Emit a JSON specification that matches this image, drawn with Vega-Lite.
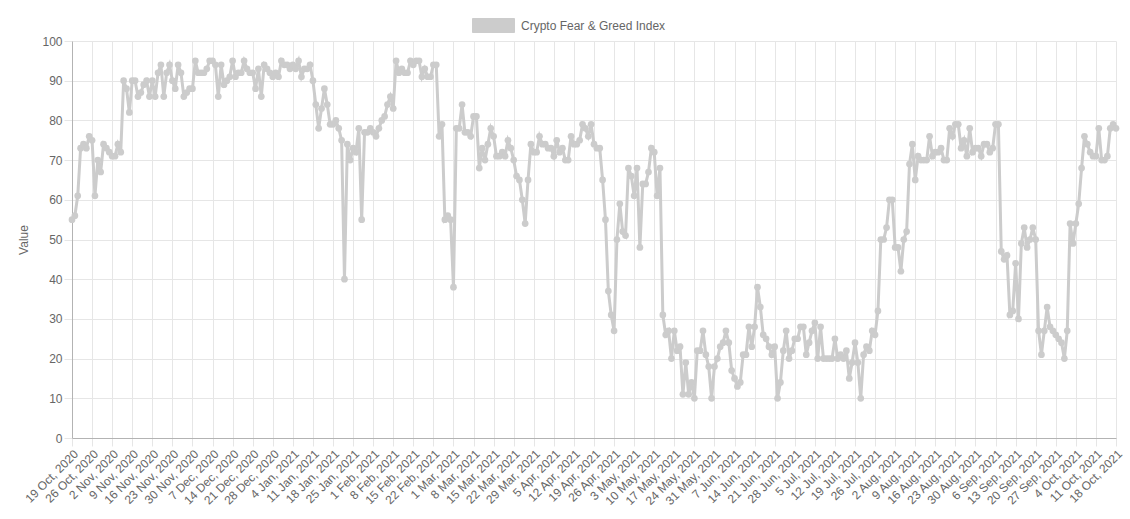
{
  "$schema": "https://vega.github.io/schema/vega-lite/v6.json",
  "width": 1044,
  "height": 397,
  "autosize": {"type": "none"},
  "padding": {"left": 72, "top": 41, "right": 14, "bottom": 81},
  "background": "white",
  "config": {
    "font": "Liberation Sans",
    "view": {"stroke": null},
    "axis": {"labelFont": "Liberation Sans", "titleFont": "Liberation Sans", "labelFontSize": 12, "labelColor": "#666666", "gridColor": "#e6e6e6", "tickColor": "#e6e6e6", "domainColor": "#b3b3b3", "tickSize": 8, "labelPadding": 2}
  },
  "data": {"values": [
{"date":"19 Oct, 2020","value":55},{"date":"20 Oct, 2020","value":56},{"date":"21 Oct, 2020","value":61},{"date":"22 Oct, 2020","value":73},{"date":"23 Oct, 2020","value":74},{"date":"24 Oct, 2020","value":73},{"date":"25 Oct, 2020","value":76},{"date":"26 Oct, 2020","value":75},{"date":"27 Oct, 2020","value":61},{"date":"28 Oct, 2020","value":70},{"date":"29 Oct, 2020","value":67},{"date":"30 Oct, 2020","value":74},{"date":"31 Oct, 2020","value":73},
{"date":"1 Nov, 2020","value":72},{"date":"2 Nov, 2020","value":71},{"date":"3 Nov, 2020","value":71},{"date":"4 Nov, 2020","value":74},{"date":"5 Nov, 2020","value":72},{"date":"6 Nov, 2020","value":90},{"date":"7 Nov, 2020","value":88},{"date":"8 Nov, 2020","value":82},{"date":"9 Nov, 2020","value":90},{"date":"10 Nov, 2020","value":90},{"date":"11 Nov, 2020","value":86},{"date":"12 Nov, 2020","value":87},{"date":"13 Nov, 2020","value":89},{"date":"14 Nov, 2020","value":90},{"date":"15 Nov, 2020","value":86},{"date":"16 Nov, 2020","value":90},{"date":"17 Nov, 2020","value":86},{"date":"18 Nov, 2020","value":92},{"date":"19 Nov, 2020","value":94},{"date":"20 Nov, 2020","value":86},{"date":"21 Nov, 2020","value":92},{"date":"22 Nov, 2020","value":94},{"date":"23 Nov, 2020","value":90},{"date":"24 Nov, 2020","value":88},{"date":"25 Nov, 2020","value":94},{"date":"26 Nov, 2020","value":92},{"date":"27 Nov, 2020","value":86},{"date":"28 Nov, 2020","value":87},{"date":"29 Nov, 2020","value":88},{"date":"30 Nov, 2020","value":88},
{"date":"1 Dec, 2020","value":95},{"date":"2 Dec, 2020","value":92},{"date":"3 Dec, 2020","value":92},{"date":"4 Dec, 2020","value":92},{"date":"5 Dec, 2020","value":93},{"date":"6 Dec, 2020","value":95},{"date":"7 Dec, 2020","value":95},{"date":"8 Dec, 2020","value":94},{"date":"9 Dec, 2020","value":86},{"date":"10 Dec, 2020","value":94},{"date":"11 Dec, 2020","value":89},{"date":"12 Dec, 2020","value":90},{"date":"13 Dec, 2020","value":91},{"date":"14 Dec, 2020","value":95},{"date":"15 Dec, 2020","value":91},{"date":"16 Dec, 2020","value":92},{"date":"17 Dec, 2020","value":92},{"date":"18 Dec, 2020","value":95},{"date":"19 Dec, 2020","value":93},{"date":"20 Dec, 2020","value":92},{"date":"21 Dec, 2020","value":92},{"date":"22 Dec, 2020","value":88},{"date":"23 Dec, 2020","value":93},{"date":"24 Dec, 2020","value":86},{"date":"25 Dec, 2020","value":94},{"date":"26 Dec, 2020","value":93},{"date":"27 Dec, 2020","value":92},{"date":"28 Dec, 2020","value":91},{"date":"29 Dec, 2020","value":92},{"date":"30 Dec, 2020","value":91},{"date":"31 Dec, 2020","value":95},
{"date":"1 Jan, 2021","value":94},{"date":"2 Jan, 2021","value":94},{"date":"3 Jan, 2021","value":93},{"date":"4 Jan, 2021","value":94},{"date":"5 Jan, 2021","value":93},{"date":"6 Jan, 2021","value":95},{"date":"7 Jan, 2021","value":91},{"date":"8 Jan, 2021","value":93},{"date":"9 Jan, 2021","value":93},{"date":"10 Jan, 2021","value":94},{"date":"11 Jan, 2021","value":90},{"date":"12 Jan, 2021","value":84},{"date":"13 Jan, 2021","value":78},{"date":"14 Jan, 2021","value":83},{"date":"15 Jan, 2021","value":88},{"date":"16 Jan, 2021","value":84},{"date":"17 Jan, 2021","value":79},{"date":"18 Jan, 2021","value":79},{"date":"19 Jan, 2021","value":80},{"date":"20 Jan, 2021","value":78},{"date":"21 Jan, 2021","value":75},{"date":"22 Jan, 2021","value":40},{"date":"23 Jan, 2021","value":74},{"date":"24 Jan, 2021","value":70},{"date":"25 Jan, 2021","value":73},{"date":"26 Jan, 2021","value":72},{"date":"27 Jan, 2021","value":78},{"date":"28 Jan, 2021","value":55},{"date":"29 Jan, 2021","value":77},{"date":"30 Jan, 2021","value":77},{"date":"31 Jan, 2021","value":78},
{"date":"1 Feb, 2021","value":77},{"date":"2 Feb, 2021","value":76},{"date":"3 Feb, 2021","value":78},{"date":"4 Feb, 2021","value":80},{"date":"5 Feb, 2021","value":81},{"date":"6 Feb, 2021","value":84},{"date":"7 Feb, 2021","value":86},{"date":"8 Feb, 2021","value":83},{"date":"9 Feb, 2021","value":95},{"date":"10 Feb, 2021","value":92},{"date":"11 Feb, 2021","value":93},{"date":"12 Feb, 2021","value":92},{"date":"13 Feb, 2021","value":92},{"date":"14 Feb, 2021","value":95},{"date":"15 Feb, 2021","value":94},{"date":"16 Feb, 2021","value":95},{"date":"17 Feb, 2021","value":95},{"date":"18 Feb, 2021","value":91},{"date":"19 Feb, 2021","value":93},{"date":"20 Feb, 2021","value":91},{"date":"21 Feb, 2021","value":91},{"date":"22 Feb, 2021","value":94},{"date":"23 Feb, 2021","value":94},{"date":"24 Feb, 2021","value":76},{"date":"25 Feb, 2021","value":79},{"date":"26 Feb, 2021","value":55},{"date":"27 Feb, 2021","value":56},{"date":"28 Feb, 2021","value":55},
{"date":"1 Mar, 2021","value":38},{"date":"2 Mar, 2021","value":78},{"date":"3 Mar, 2021","value":78},{"date":"4 Mar, 2021","value":84},{"date":"5 Mar, 2021","value":77},{"date":"6 Mar, 2021","value":77},{"date":"7 Mar, 2021","value":76},{"date":"8 Mar, 2021","value":81},{"date":"9 Mar, 2021","value":81},{"date":"10 Mar, 2021","value":68},{"date":"11 Mar, 2021","value":73},{"date":"12 Mar, 2021","value":70},{"date":"13 Mar, 2021","value":74},{"date":"14 Mar, 2021","value":78},{"date":"15 Mar, 2021","value":76},{"date":"16 Mar, 2021","value":71},{"date":"17 Mar, 2021","value":71},{"date":"18 Mar, 2021","value":72},{"date":"19 Mar, 2021","value":71},{"date":"20 Mar, 2021","value":75},{"date":"21 Mar, 2021","value":73},{"date":"22 Mar, 2021","value":70},{"date":"23 Mar, 2021","value":66},{"date":"24 Mar, 2021","value":65},{"date":"25 Mar, 2021","value":60},{"date":"26 Mar, 2021","value":54},{"date":"27 Mar, 2021","value":65},{"date":"28 Mar, 2021","value":74},{"date":"29 Mar, 2021","value":72},{"date":"30 Mar, 2021","value":72},{"date":"31 Mar, 2021","value":76},
{"date":"1 Apr, 2021","value":74},{"date":"2 Apr, 2021","value":74},{"date":"3 Apr, 2021","value":73},{"date":"4 Apr, 2021","value":73},{"date":"5 Apr, 2021","value":71},{"date":"6 Apr, 2021","value":75},{"date":"7 Apr, 2021","value":72},{"date":"8 Apr, 2021","value":73},{"date":"9 Apr, 2021","value":70},{"date":"10 Apr, 2021","value":70},{"date":"11 Apr, 2021","value":76},{"date":"12 Apr, 2021","value":74},{"date":"13 Apr, 2021","value":74},{"date":"14 Apr, 2021","value":75},{"date":"15 Apr, 2021","value":79},{"date":"16 Apr, 2021","value":78},{"date":"17 Apr, 2021","value":76},{"date":"18 Apr, 2021","value":79},{"date":"19 Apr, 2021","value":74},{"date":"20 Apr, 2021","value":73},{"date":"21 Apr, 2021","value":73},{"date":"22 Apr, 2021","value":65},{"date":"23 Apr, 2021","value":55},{"date":"24 Apr, 2021","value":37},{"date":"25 Apr, 2021","value":31},{"date":"26 Apr, 2021","value":27},{"date":"27 Apr, 2021","value":50},{"date":"28 Apr, 2021","value":59},{"date":"29 Apr, 2021","value":52},{"date":"30 Apr, 2021","value":51},
{"date":"1 May, 2021","value":68},{"date":"2 May, 2021","value":66},{"date":"3 May, 2021","value":61},{"date":"4 May, 2021","value":68},{"date":"5 May, 2021","value":48},{"date":"6 May, 2021","value":64},{"date":"7 May, 2021","value":64},{"date":"8 May, 2021","value":67},{"date":"9 May, 2021","value":73},{"date":"10 May, 2021","value":72},{"date":"11 May, 2021","value":61},{"date":"12 May, 2021","value":68},{"date":"13 May, 2021","value":31},{"date":"14 May, 2021","value":26},{"date":"15 May, 2021","value":27},{"date":"16 May, 2021","value":20},{"date":"17 May, 2021","value":27},{"date":"18 May, 2021","value":22},{"date":"19 May, 2021","value":23},{"date":"20 May, 2021","value":11},{"date":"21 May, 2021","value":19},{"date":"22 May, 2021","value":11},{"date":"23 May, 2021","value":14},{"date":"24 May, 2021","value":10},{"date":"25 May, 2021","value":22},{"date":"26 May, 2021","value":22},{"date":"27 May, 2021","value":27},{"date":"28 May, 2021","value":21},{"date":"29 May, 2021","value":18},{"date":"30 May, 2021","value":10},{"date":"31 May, 2021","value":18},
{"date":"1 Jun, 2021","value":20},{"date":"2 Jun, 2021","value":23},{"date":"3 Jun, 2021","value":24},{"date":"4 Jun, 2021","value":27},{"date":"5 Jun, 2021","value":24},{"date":"6 Jun, 2021","value":17},{"date":"7 Jun, 2021","value":15},{"date":"8 Jun, 2021","value":13},{"date":"9 Jun, 2021","value":14},{"date":"10 Jun, 2021","value":21},{"date":"11 Jun, 2021","value":21},{"date":"12 Jun, 2021","value":28},{"date":"13 Jun, 2021","value":23},{"date":"14 Jun, 2021","value":28},{"date":"15 Jun, 2021","value":38},{"date":"16 Jun, 2021","value":33},{"date":"17 Jun, 2021","value":26},{"date":"18 Jun, 2021","value":25},{"date":"19 Jun, 2021","value":23},{"date":"20 Jun, 2021","value":21},{"date":"21 Jun, 2021","value":23},{"date":"22 Jun, 2021","value":10},{"date":"23 Jun, 2021","value":14},{"date":"24 Jun, 2021","value":22},{"date":"25 Jun, 2021","value":27},{"date":"26 Jun, 2021","value":20},{"date":"27 Jun, 2021","value":22},{"date":"28 Jun, 2021","value":25},{"date":"29 Jun, 2021","value":25},{"date":"30 Jun, 2021","value":28},
{"date":"1 Jul, 2021","value":28},{"date":"2 Jul, 2021","value":21},{"date":"3 Jul, 2021","value":24},{"date":"4 Jul, 2021","value":27},{"date":"5 Jul, 2021","value":29},{"date":"6 Jul, 2021","value":20},{"date":"7 Jul, 2021","value":28},{"date":"8 Jul, 2021","value":20},{"date":"9 Jul, 2021","value":20},{"date":"10 Jul, 2021","value":20},{"date":"11 Jul, 2021","value":20},{"date":"12 Jul, 2021","value":25},{"date":"13 Jul, 2021","value":20},{"date":"14 Jul, 2021","value":21},{"date":"15 Jul, 2021","value":20},{"date":"16 Jul, 2021","value":22},{"date":"17 Jul, 2021","value":15},{"date":"18 Jul, 2021","value":19},{"date":"19 Jul, 2021","value":24},{"date":"20 Jul, 2021","value":19},{"date":"21 Jul, 2021","value":10},{"date":"22 Jul, 2021","value":21},{"date":"23 Jul, 2021","value":23},{"date":"24 Jul, 2021","value":22},{"date":"25 Jul, 2021","value":27},{"date":"26 Jul, 2021","value":26},{"date":"27 Jul, 2021","value":32},{"date":"28 Jul, 2021","value":50},{"date":"29 Jul, 2021","value":50},{"date":"30 Jul, 2021","value":53},{"date":"31 Jul, 2021","value":60},
{"date":"1 Aug, 2021","value":60},{"date":"2 Aug, 2021","value":48},{"date":"3 Aug, 2021","value":48},{"date":"4 Aug, 2021","value":42},{"date":"5 Aug, 2021","value":50},{"date":"6 Aug, 2021","value":52},{"date":"7 Aug, 2021","value":69},{"date":"8 Aug, 2021","value":74},{"date":"9 Aug, 2021","value":65},{"date":"10 Aug, 2021","value":71},{"date":"11 Aug, 2021","value":70},{"date":"12 Aug, 2021","value":70},{"date":"13 Aug, 2021","value":70},{"date":"14 Aug, 2021","value":76},{"date":"15 Aug, 2021","value":71},{"date":"16 Aug, 2021","value":72},{"date":"17 Aug, 2021","value":72},{"date":"18 Aug, 2021","value":73},{"date":"19 Aug, 2021","value":70},{"date":"20 Aug, 2021","value":70},{"date":"21 Aug, 2021","value":78},{"date":"22 Aug, 2021","value":76},{"date":"23 Aug, 2021","value":79},{"date":"24 Aug, 2021","value":79},{"date":"25 Aug, 2021","value":73},{"date":"26 Aug, 2021","value":75},{"date":"27 Aug, 2021","value":71},{"date":"28 Aug, 2021","value":78},{"date":"29 Aug, 2021","value":72},{"date":"30 Aug, 2021","value":73},{"date":"31 Aug, 2021","value":73},
{"date":"1 Sep, 2021","value":71},{"date":"2 Sep, 2021","value":74},{"date":"3 Sep, 2021","value":74},{"date":"4 Sep, 2021","value":72},{"date":"5 Sep, 2021","value":73},{"date":"6 Sep, 2021","value":79},{"date":"7 Sep, 2021","value":79},{"date":"8 Sep, 2021","value":47},{"date":"9 Sep, 2021","value":45},{"date":"10 Sep, 2021","value":46},{"date":"11 Sep, 2021","value":31},{"date":"12 Sep, 2021","value":32},{"date":"13 Sep, 2021","value":44},{"date":"14 Sep, 2021","value":30},{"date":"15 Sep, 2021","value":49},{"date":"16 Sep, 2021","value":53},{"date":"17 Sep, 2021","value":48},{"date":"18 Sep, 2021","value":50},{"date":"19 Sep, 2021","value":53},{"date":"20 Sep, 2021","value":50},{"date":"21 Sep, 2021","value":27},{"date":"22 Sep, 2021","value":21},{"date":"23 Sep, 2021","value":27},{"date":"24 Sep, 2021","value":33},{"date":"25 Sep, 2021","value":28},{"date":"26 Sep, 2021","value":27},{"date":"27 Sep, 2021","value":26},{"date":"28 Sep, 2021","value":25},{"date":"29 Sep, 2021","value":24},{"date":"30 Sep, 2021","value":20},
{"date":"1 Oct, 2021","value":27},{"date":"2 Oct, 2021","value":54},{"date":"3 Oct, 2021","value":49},{"date":"4 Oct, 2021","value":54},{"date":"5 Oct, 2021","value":59},{"date":"6 Oct, 2021","value":68},{"date":"7 Oct, 2021","value":76},{"date":"8 Oct, 2021","value":74},{"date":"9 Oct, 2021","value":72},{"date":"10 Oct, 2021","value":71},{"date":"11 Oct, 2021","value":71},{"date":"12 Oct, 2021","value":78},{"date":"13 Oct, 2021","value":70},{"date":"14 Oct, 2021","value":70},{"date":"15 Oct, 2021","value":71},{"date":"16 Oct, 2021","value":78},{"date":"17 Oct, 2021","value":79},{"date":"18 Oct, 2021","value":78}
  ]},
  "mark": {"type": "line", "strokeWidth": 3, "point": {"filled": true, "size": 45, "opacity": 1}},
  "encoding": {
    "x": {
      "field": "date", "type": "ordinal", "sort": null,
      "scale": {"type": "point", "padding": 0},
      "axis": {
        "title": null, "grid": true, "labelAngle": -45,
        "values": ["19 Oct, 2020","26 Oct, 2020","2 Nov, 2020","9 Nov, 2020","16 Nov, 2020","23 Nov, 2020","30 Nov, 2020","7 Dec, 2020","14 Dec, 2020","21 Dec, 2020","28 Dec, 2020","4 Jan, 2021","11 Jan, 2021","18 Jan, 2021","25 Jan, 2021","1 Feb, 2021","8 Feb, 2021","15 Feb, 2021","22 Feb, 2021","1 Mar, 2021","8 Mar, 2021","15 Mar, 2021","22 Mar, 2021","29 Mar, 2021","5 Apr, 2021","12 Apr, 2021","19 Apr, 2021","26 Apr, 2021","3 May, 2021","10 May, 2021","17 May, 2021","24 May, 2021","31 May, 2021","7 Jun, 2021","14 Jun, 2021","21 Jun, 2021","28 Jun, 2021","5 Jul, 2021","12 Jul, 2021","19 Jul, 2021","26 Jul, 2021","2 Aug, 2021","9 Aug, 2021","16 Aug, 2021","23 Aug, 2021","30 Aug, 2021","6 Sep, 2021","13 Sep, 2021","20 Sep, 2021","27 Sep, 2021","4 Oct, 2021","11 Oct, 2021","18 Oct, 2021"]
      }
    },
    "y": {
      "field": "value", "type": "quantitative",
      "scale": {"domain": [0, 100], "nice": false, "zero": true},
      "axis": {"title": "Value", "values": [0,10,20,30,40,50,60,70,80,90,100], "titleColor": "#666666", "titleFontWeight": "normal", "titleFontSize": 12, "titlePadding": 11, "grid": true}
    },
    "color": {
      "datum": "Crypto Fear & Greed Index",
      "scale": {"range": ["#cccccc"]},
      "legend": {
        "orient": "none", "legendX": 400, "legendY": -37, "title": null, "padding": 0,
        "symbolType": "M-1,-0.333L1,-0.333L1,0.333L-1,0.333Z", "symbolSize": 1764,
        "symbolFillColor": "#cccccc", "symbolStrokeColor": "#cccccc", "symbolStrokeWidth": 1, "symbolOpacity": 1,
        "labelFontSize": 12, "labelColor": "#666666", "labelFont": "Liberation Sans", "labelOffset": 6,
        "encode": {"symbols": {"update": {"fill": {"value": "#cccccc"}, "stroke": {"value": "#cccccc"}, "strokeWidth": {"value": 1}}}}
      }
    }
  }
}
